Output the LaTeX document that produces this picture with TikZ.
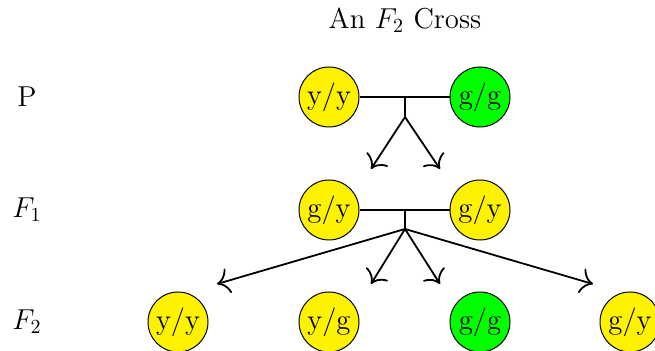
\documentclass[tikz,border=0pt]{standalone}
\usetikzlibrary{arrows.meta}
\begin{document}
\begin{tikzpicture}[x=0.5pt,y=-0.5pt,
  allele/.style={circle,draw=black,line width=0.5pt,minimum size=30pt,inner sep=0pt,font=\Large},
  yel/.style={allele,fill=yellow},
  grn/.style={allele,fill=green},
  gen/.style={font=\Large},
  link/.style={line width=0.9pt},
  arr/.style={line width=0.9pt,-{To[scale=1.7]}}]
\clip (0,0) rectangle (655,351);
\useasboundingbox (0,0) rectangle (655,351);
% title
\node[gen] (title) at (405,20) {An $F_2$ Cross};
% generation labels
\node[gen] (lP) at (27,97) {P};
\node[gen] (lF1) at (27,210) {$F_1$};
\node[gen] (lF2) at (27,322) {$F_2$};
% P
\node[yel] (p1) at (329,97) {y/y};
\node[grn] (p2) at (480,97) {g/g};
% F1
\node[yel] (f1) at (329,210) {g/y};
\node[yel] (f2) at (480,210) {g/y};
% F2
\node[yel] (s1) at (178,322) {y/y};
\node[yel] (s2) at (329,322) {y/g};
\node[grn] (s3) at (480,322) {g/g};
\node[yel] (s4) at (630,322) {g/y};
% junctions
\coordinate (pm) at (405,97);
\coordinate (pj) at (405,117);
\coordinate (pa1) at (371,169);
\coordinate (pa2) at (440,169);
\coordinate (fm) at (405,210);
\coordinate (fj) at (405,229);
\coordinate (fa1) at (217,284);
\coordinate (fa2) at (371,284);
\coordinate (fa3) at (440,284);
\coordinate (fa4) at (593,284);
\draw[link] (p1) -- (p2);
\draw[link] (pm) -- (pj);
\draw[arr] (pj) -- (pa1);
\draw[arr] (pj) -- (pa2);
\draw[link] (f1) -- (f2);
\draw[link] (fm) -- (fj);
\draw[arr] (fj) -- (fa1);
\draw[arr] (fj) -- (fa2);
\draw[arr] (fj) -- (fa3);
\draw[arr] (fj) -- (fa4);
\end{tikzpicture}
\end{document}
